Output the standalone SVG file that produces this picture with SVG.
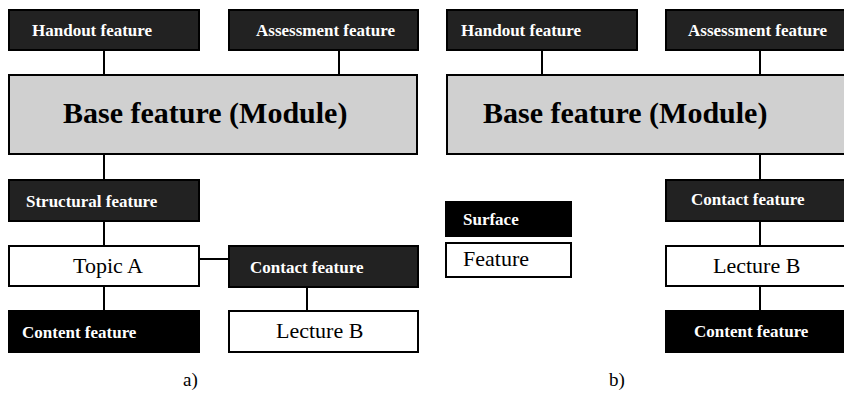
<svg xmlns="http://www.w3.org/2000/svg" width="844" height="396" viewBox="0 0 844 396">
<style>
rect{stroke:#000;stroke-width:2}
.dark{fill:#222}
.black{fill:#000}
.white{fill:#fff}
.base{fill:#d0d0d0}
text{font-family:"Liberation Serif","Times New Roman",serif}
.lb{font-weight:bold;font-size:17px;fill:#fff}
.lr{font-size:22px;fill:#000}
.big{font-weight:bold;font-size:30px;fill:#000}
.cap{font-size:19px;fill:#000}
#connectors line{stroke:#000;stroke-width:2}
</style>
<g id="connectors">
<line x1="104" y1="50" x2="104" y2="75"/>
<line x1="339" y1="50" x2="339" y2="75"/>
<line x1="104" y1="154" x2="104" y2="180"/>
<line x1="104" y1="221" x2="104" y2="246"/>
<line x1="104" y1="286" x2="104" y2="311"/>
<line x1="199" y1="259" x2="229" y2="259"/>
<line x1="307" y1="287" x2="307" y2="311"/>
<line x1="542" y1="50" x2="542" y2="75"/>
<line x1="760" y1="50" x2="760" y2="75"/>
<line x1="760" y1="154" x2="760" y2="180"/>
<line x1="760" y1="221" x2="760" y2="246"/>
<line x1="760" y1="286" x2="760" y2="311"/>
</g>
<g id="a-handout"><rect class="dark" x="9" y="10" width="190" height="40"/><text class="lb" x="32" y="36">Handout feature</text></g>
<g id="a-assessment"><rect class="dark" x="229" y="10" width="189" height="40"/><text class="lb" x="256" y="36">Assessment feature</text></g>
<g id="a-base"><rect class="base" x="9" y="75" width="408" height="79"/><text class="big" x="63" y="123">Base feature (Module)</text></g>
<g id="a-structural"><rect class="dark" x="9" y="180" width="190" height="41"/><text class="lb" x="26" y="207">Structural feature</text></g>
<g id="a-topic"><rect class="white" x="9" y="246" width="190" height="40"/><text class="lr" x="73" y="273">Topic A</text></g>
<g id="a-contact"><rect class="dark" x="229" y="246" width="189" height="41"/><text class="lb" x="250" y="273">Contact feature</text></g>
<g id="a-lecture"><rect class="white" x="229" y="311" width="189" height="41"/><text class="lr" x="276" y="338">Lecture B</text></g>
<g id="a-content"><rect class="black" x="9" y="311" width="190" height="41"/><text class="lb" x="22" y="338">Content feature</text></g>
<text class="cap" x="183" y="386">a)</text>
<g id="b-handout"><rect class="dark" x="447" y="10" width="190" height="40"/><text class="lb" x="461" y="36">Handout feature</text></g>
<g id="b-assessment"><rect class="dark" x="666" y="10" width="190" height="40"/><text class="lb" x="688" y="36">Assessment feature</text></g>
<g id="b-base"><rect class="base" x="447" y="75" width="410" height="79"/><text class="big" x="483" y="123">Base feature (Module)</text></g>
<g id="b-contact"><rect class="dark" x="666" y="180" width="190" height="41"/><text class="lb" x="691" y="205">Contact feature</text></g>
<g id="b-lecture"><rect class="white" x="666" y="246" width="190" height="40"/><text class="lr" x="713" y="273">Lecture B</text></g>
<g id="b-content"><rect class="black" x="666" y="311" width="190" height="41"/><text class="lb" x="694" y="337">Content feature</text></g>
<g id="legend-surface"><rect class="black" x="446" y="202" width="125" height="34"/><text class="lb" x="463" y="225">Surface</text></g>
<g id="legend-feature"><rect class="white" x="446" y="243" width="125" height="34"/><text class="lr" x="463" y="266">Feature</text></g>
<text class="cap" x="609" y="386">b)</text>
</svg>
